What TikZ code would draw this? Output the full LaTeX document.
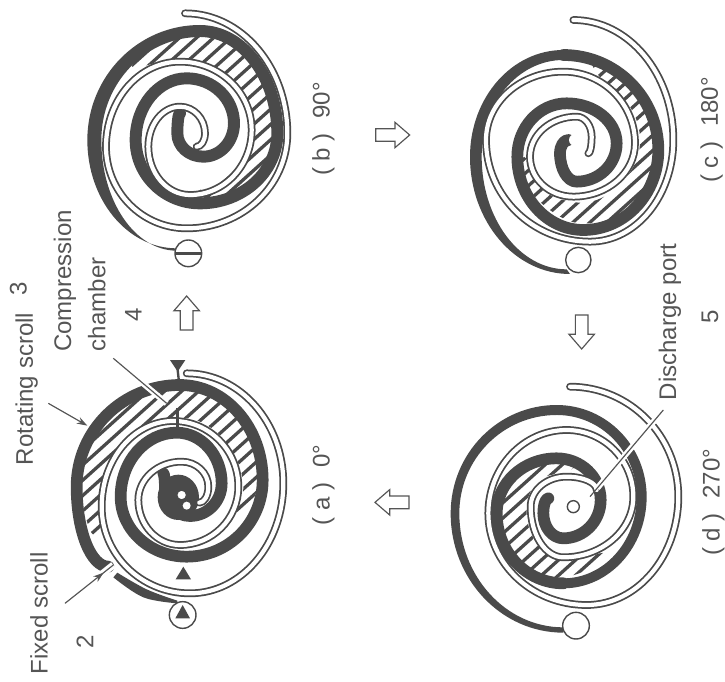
\documentclass[tikz,border=0pt]{standalone}
\usepackage{fontspec}
\setmainfont{Liberation Sans}
\usetikzlibrary{arrows.meta,decorations.markings,calc}
\definecolor{ink}{HTML}{4A4A4A}
\definecolor{txt}{HTML}{555555}
\tikzset{
  lbl/.style={rotate=90,inner sep=0pt,text=txt,font=\fontsize{20.5}{24}\selectfont},
  fixedwall/.style={draw=ink,line cap=round,line join=round},
  rotwall/.style={draw=ink,line cap=round,line join=round,line width=1.5pt,double=white,double distance=3.6pt},
  hatchline/.style={draw=ink,line width=2.8pt},
  leader/.style={draw=txt,line width=1pt},
  halo/.style={draw=white,line width=6pt},
  blockarrow/.style={draw=txt,line width=1pt,fill=white,line join=miter},
  portcircle/.style={draw=ink,line width=1.2pt,fill=white},
  marktri/.style={fill=ink,draw=none},
  midarrow/.style={postaction={decorate},decoration={markings,mark=at position #1 with {\arrow{Stealth[length=9pt,width=6pt]}}}}
}
% builds a path of quarter ellipses through successive extreme points
\newcommand{\buildspiral}[3]{\gdef#1{}\gdef\bsmode{#2}\gdef\bsfirst{1}%
  \foreach \px/\py in {#3}{%
    \ifnum\bsfirst=1
      \xdef#1{(\px,\py)}\xdef\bsx{\px}\xdef\bsy{\py}\gdef\bsfirst{0}%
    \else
      \ifnum\bsmode=0
        \pgfmathsetmacro{\cax}{\bsx+0.5523*(\px-\bsx)}\pgfmathsetmacro{\cay}{\bsy}%
        \pgfmathsetmacro{\cbx}{\px}\pgfmathsetmacro{\cby}{\py+0.5523*(\bsy-\py)}%
        \gdef\bsmode{1}%
      \else
        \pgfmathsetmacro{\cax}{\bsx}\pgfmathsetmacro{\cay}{\bsy+0.5523*(\py-\bsy)}%
        \pgfmathsetmacro{\cbx}{\px+0.5523*(\bsx-\px)}\pgfmathsetmacro{\cby}{\py}%
        \gdef\bsmode{0}%
      \fi
      \xdef#1{#1 .. controls (\cax,\cay) and (\cbx,\cby) .. (\px,\py)}%
      \xdef\bsx{\px}\xdef\bsy{\py}%
    \fi}}
\newcommand{\fixedpath}[2]{\buildspiral{\thispath}{0}{#2}\draw[fixedwall,line width=#1pt] \thispath;}
\newcommand{\fixedlens}[2]{\buildspiral{\lensa}{0}{#1}\buildspiral{\lensb}{0}{#2}\fill[ink] \lensa -- \lensb -- cycle;}
\newcommand{\rotpath}[1]{\buildspiral{\thispath}{0}{#1}\draw[rotwall] \thispath;}
\newcommand{\hatchzone}[1]{\begin{scope}\clip plot[smooth cycle,tension=.7] coordinates {#1};
  \foreach \c in {0,46,...,1900} {\draw[hatchline] (0,\c) -- (1000,\c-900);}\end{scope}}
\newcommand{\blockarr}[3]{\draw[blockarrow,shift={(#1,#2)},rotate=#3] (0,-52)--(38,-8)--(19,-8)--(19,50)--(-19,50)--(-19,-8)--(-38,-8)--cycle;}
\begin{document}
\begin{tikzpicture}[x=0.01cm,y=-0.01cm]
\useasboundingbox (0,0) rectangle (2175,2046);

%% panel a
\begin{scope}[shift={(0,1020)}]
\hatchzone{(270,570)(245,440)(275,300)(355,190)(450,150)(560,150)(650,175)(730,250)(770,350)(775,430)(740,520)(710,510)(730,440)(700,340)(620,255)(520,235)(420,270)(335,365)(295,490)(300,570)}
\fill[ink] plot[smooth,tension=.6] coordinates {(340,712)(430,772)(532,790)} -- plot[smooth,tension=.6] coordinates {(532,782)(440,748)(352,698)} -- cycle;
\fixedpath{10}{325/680,230/440,540/135,788/420,560/650,362/470,530/278,665/430,570/528,495/450,490/400}
\fill[ink] (535,472) ellipse (62 and 68);
\rotpath{560/100,850/430,570/760,305/500,520/243,715/440,540/615,415/480,545/365,625/440,598/488}
\fill[white] (560,497) circle (12);
\draw[portcircle] (545,465) circle (15);
\draw[portcircle] (548,825) circle (40);
\fill[marktri] (548,795)--(570,835)--(526,835)--cycle;
\fill[marktri] (550,680)--(573,718)--(527,718)--cycle;
\fill[marktri] (510,60)--(556,60)--(533,95)--cycle;
\draw[draw=ink,line width=2pt] (533,90)--(538,135);
\draw[draw=ink,line width=2pt] (533,205)--(533,262);
\end{scope}

%% panel b
\begin{scope}
\hatchzone{(400,190)(470,125)(600,110)(720,145)(790,230)(815,340)(810,450)(740,560)(650,590)(600,590)(600,570)(670,540)(730,470)(745,380)(710,270)(620,200)(520,180)(420,200)}
\buildspiral{\tmpa}{0}{530/745,262/420,600/75}\buildspiral{\tmpb}{0}{600/111,304/420,530/752}
\fill[ink] \tmpa -- \tmpb -- cycle;
\fixedpath{10.2}{600/93,832/400,600/610,407/420,560/235,702/370,610/470,532/400,540/340}
\rotpath{555/40,862/400,560/685,318/440,540/185,755/390,570/585,445/440,540/320,615/400,590/440}
\draw[portcircle] (565,760) circle (40);
\draw[draw=ink,line width=2pt] (525,760)--(605,760);
\end{scope}

%% panel c
\begin{scope}[shift={(1080,0)}]
\hatchzone{(700,185)(800,240)(880,370)(880,470)(850,590)(770,650)(690,670)(600,650)(500,560)(480,470)(520,500)(540,560)(610,600)(710,600)(800,530)(840,430)(810,320)(730,245)}
\fixedlens{630/822,330/470,610/150}{610/180,365/470,620/808}
\fixedpath{10}{610/165,895/450,670/690,472/470,620/310,770/430,650/545,600/460,625/420}
\rotpath{640/60,940/420,690/725,378/420,610/215,825/430,640/590,510/470,650/350,695/410,685/460}
\fill[white] (645,420) circle (18);
\draw[portcircle] (655,780) circle (38);
\end{scope}

%% panel d
\begin{scope}[shift={(1080,1020)}]
\hatchzone{(640,375)(560,370)(470,400)(425,500)(430,600)(500,690)(610,710)(700,680)(760,640)(720,640)(620,660)(530,610)(500,500)(540,420)(620,395)}
\fixedlens{610/878,272/520,590/195}{590/225,298/520,610/862}
\fixedpath{8.5}{590/210,845/470,610/730,410/520}
\fixedpath{10}{610/730,410/520,590/355,722/480,610/595,550/520,565/475}
\rotpath{630/140,955/470,680/795,385/520,620/270,820/470,610/652,512/500,620/410,710/450}
\fill[white] (670,515) ellipse (18 and 30);
\draw[portcircle] (640,500) circle (18);
\draw[portcircle] (648,857) circle (40);
\end{scope}

%% labels
\node[lbl] (fixedlabel) at (117,1840) {Fixed scroll};
\node[lbl] (fixednum) at (255,1925) {2};
\node[lbl] (rotlabel) at (80,1167) {Rotating scroll};
\node[lbl] (rotnum) at (55,865) {3};
\node[lbl] (complabel) at (195,843) {Compression};
\node[lbl] (chamlabel) at (290,913) {chamber};
\node[lbl] (compnum) at (400,945) {4};
\node[lbl] (capa) at (970,1455) {( a )\,\, 0°};
\node[lbl] (capb) at (970,387) {( b )\,\, 90°};
\node[lbl] (capc) at (2135,390) {( c )\,\, 180°};
\node[lbl] (capd) at (2140,1507) {( d )\,\, 270°};
\node[lbl] (dislabel) at (2010,966) {Discharge port};
\node[lbl] (disnum) at (2130,950) {5};

%% leader lines
\coordinate (fixa) at (195,1810);
\coordinate (fixb) at (340,1695);
\coordinate (rota) at (145,1210);
\coordinate (rotb) at (262,1277);
\coordinate (compa) at (340,1075);
\coordinate (compb) at (500,1210);
\coordinate (disa) at (1990,1230);
\coordinate (disb) at (1770,1490);
\draw[halo] (fixa) -- (fixb);
\draw[leader,midarrow=.8] (fixa) -- (fixb);
\draw[leader,-{Stealth[length=9pt,width=6pt]}] (rota) -- (rotb);
\draw[white,line width=5pt] ($(compa)!0.45!(compb)$) -- (compb);
\draw[leader] (compa) -- (compb);
\draw[white,line width=5pt] ($(disa)!0.1!(disb)$) -- ($(disa)!0.9!(disb)$);
\draw[leader] (disa) -- (disb);

%% step arrows
\blockarr{560}{940}{0}
\blockarr{1177}{405}{-90}
\blockarr{1745}{995}{180}
\blockarr{1177}{1507}{90}
\end{tikzpicture}
\end{document}
